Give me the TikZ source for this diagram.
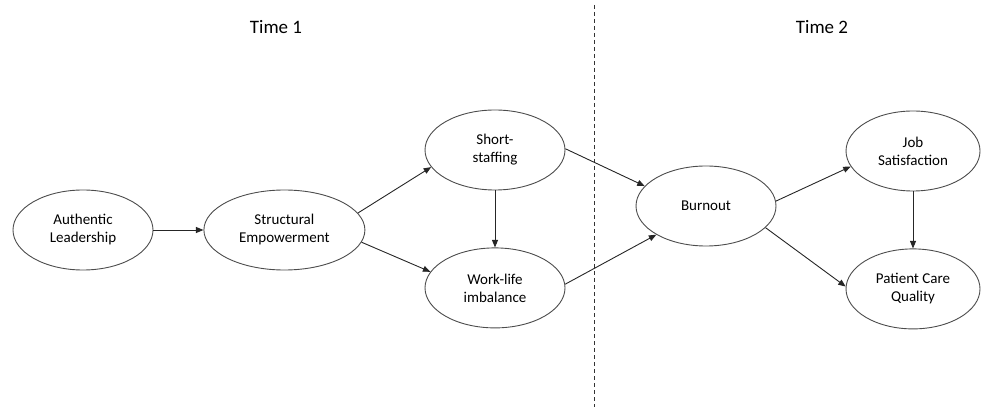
\documentclass[tikz,border=0pt]{standalone}
\usepackage{fontspec}
\setmainfont{Carlito}
\usetikzlibrary{positioning,arrows.meta,shapes.geometric}

\begin{document}
\begin{tikzpicture}[x=1pt, y=1pt, >={Triangle[length=7.5pt,width=6pt]},
  font=\fontsize{15}{18}\selectfont,
  latent/.style={draw=black!70, ellipse, align=center, inner sep=0pt,
    minimum width=140pt, minimum height=80pt, line width=0.9pt},
  path/.style={->, draw=black!85, line width=0.9pt},
  wave/.style={font=\fontsize{19}{22}\selectfont}]
  \useasboundingbox (0,0) rectangle (981,407);
  % time labels and divider
  \node[wave] (t1) at (276,380) {Time 1};
  \node[wave] (t2) at (822,380) {Time 2};
  \coordinate (divtop) at (594,402);
  \coordinate (divbot) at (594,0);
  \draw[black!80, line width=0.8pt, dash pattern=on 4pt off 3pt] (divtop) -- (divbot);
  % constructs
  \node[latent] (al) at (83,177) {Authentic\\Leadership};
  \node[latent, minimum width=161pt, right=50pt of al] (se) {Structural\\Empowerment};
  \node[latent] (ss) at (495,257) {Short-\\staffing};
  \node[latent, below=57pt of ss] (wl) {Work-life\\imbalance};
  \node[latent] (bo) at (706,201) {Burnout};
  \node[latent, minimum width=134pt] (js) at (913,256) {Job\\Satisfaction};
  \node[latent, minimum width=134pt, below=57pt of js] (pcq) {Patient Care\\Quality};
  % paths
  \draw[path] (al) -- (se);
  \draw[path] (se.13) -- (ss.195);
  \draw[path] (se.351) -- (wl.166);
  \draw[path] (ss) -- (wl);
  \draw[path] (ss.1) -- (bo.162);
  \draw[path] (wl.3) -- (bo.210);
  \draw[path] (bo.4) -- (js.194);
  \draw[path] (bo.340) -- (pcq.178);
  \draw[path] (js) -- (pcq);
\end{tikzpicture}
\end{document}
